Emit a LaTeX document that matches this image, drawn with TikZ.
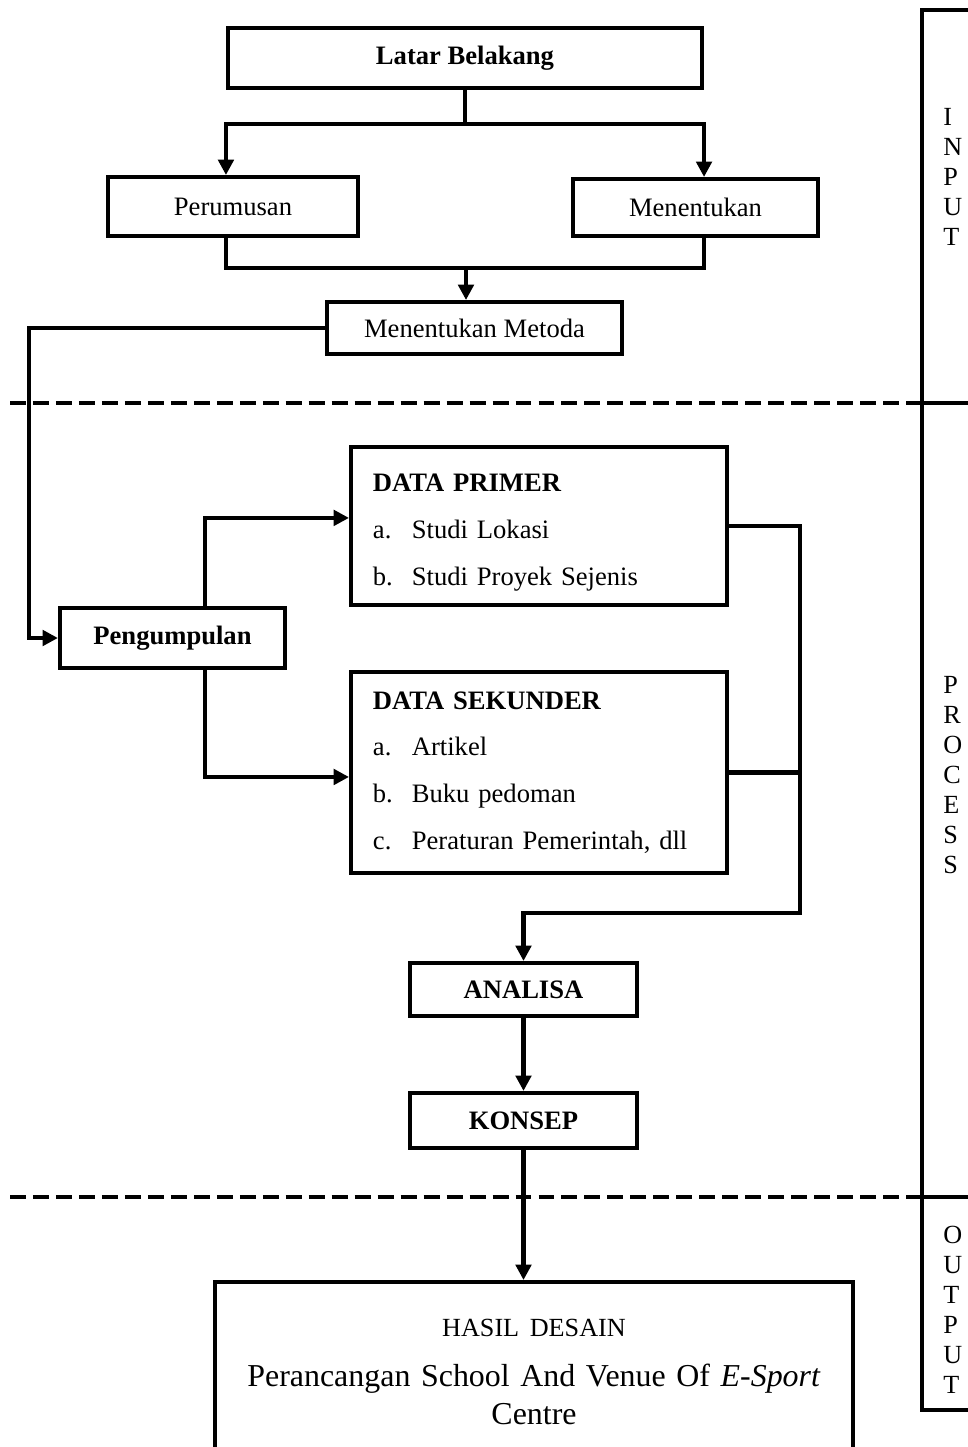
\documentclass[tikz,border=0pt]{standalone}
\usepackage{fontspec}
\setmainfont{Liberation Serif}
\usetikzlibrary{arrows.meta}

\newcommand{\butir}[2]{\makebox[18.3pt][l]{#1}#2}

\begin{document}
\begin{tikzpicture}[x=0.47pt, y=-0.47pt,
  font=\fontsize{12.5}{14.5}\selectfont,
  box/.style={draw, line width=1.9pt, inner sep=0pt},
  link/.style={line width=1.9pt},
  arr/.style={link, -{Triangle[length=7.2pt, width=7.2pt]}},
  sep/.style={line width=2.3pt, dash pattern=on 7.5pt off 3.3pt},
  tag/.style={inner sep=0pt, anchor=west, align=left, font=\fontsize{12.3}{14.1}\selectfont},
  datalist/.style={box, minimum width=176.7pt, text width=156.1pt, inner xsep=10.3pt,
                   align=left, font=\fontsize{12.5}{22}\selectfont}]
  \useasboundingbox (0,0) rectangle (968,1447);

  \node[box, minimum width=222.8pt, minimum height=28.2pt] (lb) at (465,58) {\textbf{Latar Belakang}};
  \node[box, minimum width=117.5pt, minimum height=27.7pt] (pr) at (233,206.5) {Perumusan};
  \node[box, minimum width=115.2pt, minimum height=26.8pt] (mn) at (695.5,207.5) {Menentukan};
  \node[box, minimum width=138.7pt, minimum height=24.4pt] (mt) at (474.5,328) {Menentukan Metoda};
  \node[box, minimum width=105.8pt, minimum height=28.2pt] (pg) at (172.5,638) {\textbf{Pengumpulan}};
  \node[datalist, minimum height=74.3pt] (dp) at (539,526)
    {\rule{0pt}{14.5pt}\textbf{DATA PRIMER}\\ \butir{a.}{Studi Lokasi}\\ \butir{b.}{Studi Proyek Sejenis}};
  \node[datalist, minimum height=94.5pt] (ds) at (539,772.5)
    {\textbf{DATA SEKUNDER}\\ \butir{a.}{Artikel}\\ \butir{b.}{Buku pedoman}\\ \butir{c.}{Peraturan Pemerintah, dll}};
  \node[box, minimum width=106.7pt, minimum height=24.9pt] (an) at (523.5,989.5) {\textbf{ANALISA}};
  \node[box, minimum width=106.7pt, minimum height=25.9pt] (ks) at (523.5,1120.5) {\textbf{KONSEP}};
  \node[box, anchor=north, minimum width=299.9pt, minimum height=84.6pt, text width=290pt,
        align=center, font=\fontsize{15}{17.5}\selectfont] (hs) at (534,1280)
    {{\fontsize{12.3}{14}\selectfont HASIL DESAIN}\\[6pt]
     Perancangan School And Venue Of \textit{E-Sport}\\ Centre};

  \coordinate (j1) at (465,124);
  \coordinate (j2) at (466,268);
  \coordinate (j3) at (29,0);
  \coordinate (c1) at (205,0);
  \coordinate (c2) at (800,913);

  \draw[link] (lb) -- (j1);
  \draw[arr] (j1) -| (pr.north -| lb.west);
  \draw[arr] (j1) -| (mn.north -| lb.east);
  \draw[link] (pr.south -| lb.west) |- (j2) -| (mn.south -| lb.east);
  \draw[arr] (j2) -- (j2 |- mt.north);
  \draw[arr] (mt.west) -- (mt.west -| j3) |- (pg.west);
  \draw[arr] (pg.north -| c1) |- ([yshift=3.8pt]dp.west);
  \draw[arr] (pg.south -| c1) |- ([yshift=-2.1pt]ds.west);
  \draw[arr] (dp.east) -| (c2) -| (an.north);
  \draw[link] (ds.east) -- (ds.east -| c2);
  \draw[arr] (an) -- (ks);

  \draw[sep] (10,403) -- (922,403);
  \draw[sep] (10,1197) -- (922,1197);
  \draw[arr] (ks.south) -- (ks.south |- hs.north);

  \draw[link] (990,10) -| (922,1410) -- (990,1410);
  \draw[link] (922,403) -- (990,403);
  \draw[link] (922,1197) -- (990,1197);
  \node[tag] (tin) at (943,177) {I\\N\\P\\U\\T};
  \node[tag] (tpr) at (943,775) {P\\R\\O\\C\\E\\S\\S};
  \node[tag] (tout) at (943,1310) {O\\U\\T\\P\\U\\T};
\end{tikzpicture}
\end{document}
